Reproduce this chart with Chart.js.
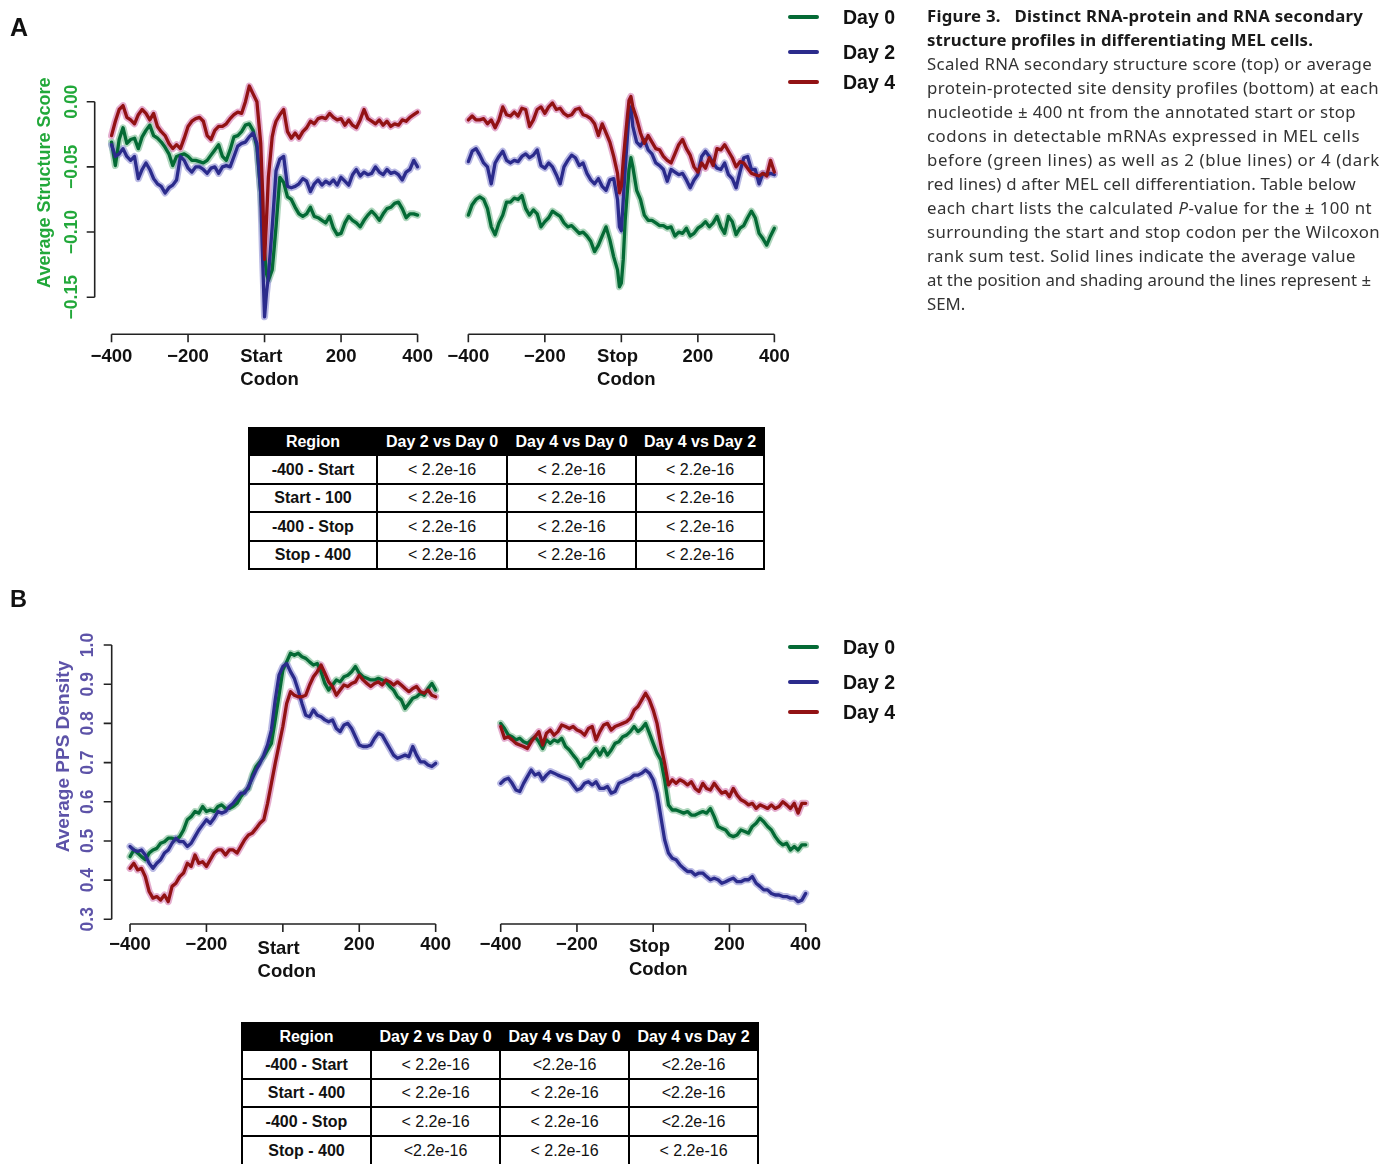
<!DOCTYPE html>
<html><head><meta charset="utf-8">
<script src="https://cdn.jsdelivr.net/npm/chart.js@4.4.1/dist/chart.umd.min.js"></script>
<style>
html,body{margin:0;padding:0;background:#fff;}
body{width:1382px;height:1164px;position:relative;overflow:hidden;font-family:"Liberation Sans",Arial,sans-serif;}
canvas.full{position:absolute;left:0;top:0;}
.panel{position:absolute;font-weight:bold;color:#111;}
.leg{position:absolute;font-weight:bold;font-size:19.5px;line-height:20px;color:#111;white-space:nowrap;}
.legline{position:absolute;height:4px;border-radius:2px;width:31px;}
.tbl{position:absolute;display:grid;background:#000;gap:2px;padding:2px;font-size:16px;}
.tbl div{background:#fff;display:flex;align-items:center;justify-content:center;white-space:nowrap;color:#111;}
.tbl div.h{background:#000;color:#fff;font-weight:bold;}
.tbl div.r{font-weight:bold;}
.cap{position:absolute;left:927px;top:4px;font-family:"Noto Sans",sans-serif;font-size:16.8px;line-height:24px;color:#333;}
.cap div{white-space:nowrap;}
.cap div.b{font-weight:bold;color:#1a1a1a;}
</style>
</head><body>
<canvas id="cAs" class="full" width="1382" height="1164"></canvas>
<canvas id="cAt" class="full" width="1382" height="1164"></canvas>
<canvas id="cBs" class="full" width="1382" height="1164"></canvas>
<canvas id="cBt" class="full" width="1382" height="1164"></canvas>

<div class="panel" style="left:10px;top:15px;font-size:25px;line-height:25px;">A</div>
<div class="panel" style="left:10px;top:588px;font-size:23.5px;line-height:23.5px;">B</div>
<div id="legends"></div>
<div id="tables"></div>

<div class="cap" id="cap">
<div class="b">Figure 3.&nbsp;&nbsp; Distinct RNA-protein and RNA secondary</div>
<div class="b">structure profiles in differentiating MEL cells.</div>
<div>Scaled RNA secondary structure score (top) or average</div>
<div>protein-protected site density profiles (bottom) at each</div>
<div>nucleotide ± 400 nt from the annotated start or stop</div>
<div>codons in detectable mRNAs expressed in MEL cells</div>
<div>before (green lines) as well as 2 (blue lines) or 4 (dark</div>
<div>red lines) d after MEL cell differentiation. Table below</div>
<div>each chart lists the calculated <i>P</i>-value for the ± 100 nt</div>
<div>surrounding the start and stop codon per the Wilcoxon</div>
<div>rank sum test. Solid lines indicate the average value</div>
<div>at the position and shading around the lines represent ±</div>
<div>SEM.</div>
</div>

<script>
// ---------------- DATA ----------------
const days = ['Day 0', 'Day 2', 'Day 4'];

const posA = [-400,-390,-380,-370,-360,-350,-340,-330,-320,-310,
  -300,-290,-280,-270,-260,-250,-240,-230,-220,-210,
  -200,-190,-180,-170,-160,-150,-140,-130,-120,-110,
  -100,-90,-80,-70,-60,-50,-40,-30,-20,-10,
  -5,0,5,
  10,20,25,
  30,40,50,60,70,80,90,100,110,120,
  130,140,150,160,170,180,190,200,210,220,
  230,240,250,260,270,280,290,300,310,320,
  330,340,350,360,370,380,390,400];

const posB = [-400,-390,-380,-370,-360,-350,-340,-330,-320,-310,
  -300,-290,-280,-270,-260,-250,-240,-230,-220,-210,
  -200,-190,-180,-170,-160,-150,-140,-130,-120,-110,
  -100,-90,-80,-70,-60,-50,-40,-30,-20,-10,
  0,10,20,30,40,50,60,70,80,90,
  100,110,120,130,140,150,160,170,180,190,
  200,210,220,230,240,250,260,270,280,290,
  300,310,320,330,340,350,360,370,380,390,
  400];

// Panel A, start codon: average structure score
const aStartDay0 = [-0.031,-0.049,-0.029,-0.020,-0.032,-0.029,-0.028,-0.036,-0.027,-0.022,
  -0.018,-0.026,-0.028,-0.031,-0.035,-0.040,-0.049,-0.042,-0.041,-0.040,
  -0.042,-0.045,-0.045,-0.046,-0.047,-0.045,-0.041,-0.037,-0.033,-0.042,
  -0.045,-0.037,-0.027,-0.026,-0.023,-0.018,-0.017,-0.022,-0.035,-0.070,
  -0.095,-0.116,-0.132,
  -0.137,-0.129,-0.113,
  -0.096,-0.058,-0.062,-0.073,-0.075,-0.081,-0.086,-0.088,-0.086,-0.081,
  -0.088,-0.089,-0.091,-0.093,-0.088,-0.097,-0.102,-0.101,-0.093,-0.088,
  -0.091,-0.093,-0.096,-0.091,-0.087,-0.084,-0.087,-0.091,-0.086,-0.082,
  -0.081,-0.078,-0.077,-0.082,-0.089,-0.086,-0.086,-0.087];
const aStartDay2 = [-0.033,-0.042,-0.040,-0.036,-0.042,-0.045,-0.042,-0.059,-0.052,-0.047,
  -0.052,-0.059,-0.063,-0.065,-0.070,-0.066,-0.064,-0.060,-0.042,-0.045,
  -0.051,-0.054,-0.050,-0.050,-0.052,-0.055,-0.051,-0.050,-0.055,-0.050,
  -0.049,-0.050,-0.042,-0.034,-0.032,-0.031,-0.027,-0.024,-0.032,-0.070,
  -0.121,-0.165,-0.147,
  -0.134,-0.096,-0.075,
  -0.053,-0.044,-0.042,-0.065,-0.066,-0.065,-0.063,-0.059,-0.061,-0.069,
  -0.063,-0.060,-0.064,-0.061,-0.063,-0.060,-0.064,-0.058,-0.061,-0.064,
  -0.056,-0.052,-0.057,-0.054,-0.056,-0.055,-0.050,-0.054,-0.056,-0.052,
  -0.055,-0.054,-0.056,-0.060,-0.054,-0.052,-0.045,-0.050];
const aStartDay4 = [-0.026,-0.015,-0.006,-0.003,-0.012,-0.014,-0.017,-0.010,-0.006,-0.009,
  -0.014,-0.009,-0.019,-0.023,-0.026,-0.032,-0.036,-0.033,-0.036,-0.028,
  -0.019,-0.015,-0.013,-0.012,-0.015,-0.026,-0.029,-0.022,-0.019,-0.019,
  -0.017,-0.013,-0.010,-0.008,-0.009,0.000,0.012,0.006,0.000,-0.032,
  -0.070,-0.121,-0.091,
  -0.058,-0.027,-0.020,
  -0.015,-0.010,-0.006,-0.023,-0.028,-0.024,-0.028,-0.023,-0.020,-0.015,
  -0.017,-0.013,-0.012,-0.013,-0.009,-0.012,-0.014,-0.013,-0.018,-0.014,
  -0.018,-0.020,-0.014,-0.006,-0.013,-0.015,-0.017,-0.014,-0.018,-0.015,
  -0.019,-0.017,-0.018,-0.014,-0.015,-0.012,-0.010,-0.008];

// Panel A, stop codon
const aStopDay0 = [-0.087,-0.079,-0.075,-0.073,-0.075,-0.082,-0.096,-0.102,-0.093,-0.087,
  -0.077,-0.077,-0.074,-0.075,-0.072,-0.082,-0.087,-0.083,-0.086,-0.096,
  -0.092,-0.089,-0.084,-0.086,-0.088,-0.093,-0.096,-0.095,-0.098,-0.101,
  -0.100,-0.103,-0.107,-0.115,-0.110,-0.103,-0.096,-0.106,-0.119,-0.129,
  -0.142,-0.139,-0.121,
  -0.091,-0.052,-0.043,
  -0.050,-0.068,-0.075,-0.087,-0.091,-0.091,-0.093,-0.095,-0.095,-0.097,
  -0.096,-0.103,-0.100,-0.101,-0.097,-0.103,-0.101,-0.097,-0.095,-0.092,
  -0.096,-0.093,-0.088,-0.096,-0.101,-0.088,-0.092,-0.102,-0.097,-0.095,
  -0.089,-0.084,-0.089,-0.101,-0.105,-0.110,-0.103,-0.097];
const aStopDay2 = [-0.046,-0.038,-0.036,-0.041,-0.047,-0.050,-0.063,-0.047,-0.042,-0.038,
  -0.045,-0.047,-0.045,-0.046,-0.042,-0.040,-0.043,-0.041,-0.037,-0.049,
  -0.051,-0.047,-0.050,-0.056,-0.063,-0.050,-0.045,-0.041,-0.043,-0.049,
  -0.047,-0.055,-0.060,-0.063,-0.059,-0.065,-0.068,-0.060,-0.059,-0.075,
  -0.096,-0.099,-0.075,
  -0.052,-0.009,-0.004,
  -0.019,-0.031,-0.034,-0.029,-0.037,-0.040,-0.047,-0.049,-0.052,-0.061,
  -0.052,-0.054,-0.056,-0.055,-0.060,-0.066,-0.060,-0.056,-0.042,-0.038,
  -0.042,-0.047,-0.051,-0.052,-0.047,-0.056,-0.059,-0.066,-0.054,-0.043,
  -0.042,-0.052,-0.052,-0.063,-0.055,-0.056,-0.055,-0.056];
const aStopDay4 = [-0.014,-0.011,-0.014,-0.014,-0.013,-0.017,-0.014,-0.020,-0.014,-0.004,
  -0.010,-0.011,-0.008,-0.011,-0.005,-0.006,-0.019,-0.014,-0.006,-0.004,
  -0.009,-0.004,-0.001,-0.006,-0.005,-0.009,-0.011,-0.010,-0.006,-0.005,
  -0.010,-0.011,-0.013,-0.017,-0.026,-0.017,-0.024,-0.031,-0.042,-0.055,
  -0.070,-0.065,-0.045,
  -0.029,0.001,0.004,
  -0.004,-0.013,-0.024,-0.032,-0.026,-0.031,-0.036,-0.037,-0.042,-0.045,
  -0.047,-0.040,-0.033,-0.029,-0.036,-0.041,-0.050,-0.054,-0.047,-0.051,
  -0.043,-0.049,-0.036,-0.037,-0.033,-0.038,-0.043,-0.050,-0.046,-0.047,
  -0.051,-0.055,-0.056,-0.057,-0.055,-0.057,-0.045,-0.054];

// Panel B, start codon: average PPS density
const bStartDay0 = [0.460,0.477,0.469,0.460,0.452,0.469,0.477,0.481,0.494,0.498,
  0.507,0.507,0.503,0.511,0.528,0.554,0.562,0.575,0.571,0.588,
  0.575,0.579,0.575,0.588,0.592,0.583,0.583,0.588,0.596,0.613,
  0.626,0.634,0.668,0.690,0.702,0.715,0.732,0.749,0.809,0.872,
  0.936,0.957,0.979,0.974,0.979,0.970,0.966,0.957,0.949,0.953,
  0.932,0.902,0.885,0.898,0.911,0.906,0.919,0.923,0.932,0.945,
  0.928,0.919,0.915,0.911,0.911,0.915,0.911,0.906,0.894,0.885,
  0.868,0.860,0.838,0.851,0.864,0.868,0.877,0.872,0.889,0.902,
  0.885];
const bStartDay2 = [0.486,0.477,0.473,0.477,0.464,0.443,0.430,0.443,0.452,0.469,
  0.477,0.494,0.507,0.498,0.498,0.486,0.494,0.511,0.528,0.541,
  0.554,0.545,0.558,0.575,0.571,0.575,0.588,0.596,0.609,0.622,
  0.622,0.639,0.660,0.681,0.698,0.719,0.745,0.783,0.860,0.923,
  0.945,0.953,0.932,0.915,0.885,0.851,0.821,0.817,0.834,0.821,
  0.817,0.809,0.804,0.809,0.787,0.779,0.796,0.800,0.787,0.766,
  0.745,0.741,0.741,0.745,0.762,0.775,0.770,0.753,0.736,0.719,
  0.711,0.715,0.719,0.715,0.741,0.719,0.702,0.702,0.694,0.690,
  0.698];
const bStartDay4 = [0.430,0.443,0.426,0.430,0.409,0.371,0.354,0.358,0.349,0.362,
  0.345,0.384,0.392,0.409,0.418,0.443,0.435,0.464,0.443,0.447,
  0.435,0.452,0.469,0.477,0.477,0.464,0.477,0.477,0.469,0.486,
  0.503,0.515,0.520,0.532,0.545,0.554,0.596,0.647,0.698,0.745,
  0.792,0.851,0.881,0.872,0.868,0.868,0.872,0.898,0.919,0.932,
  0.949,0.928,0.906,0.894,0.872,0.885,0.898,0.894,0.902,0.906,
  0.923,0.911,0.902,0.894,0.902,0.906,0.898,0.911,0.906,0.898,
  0.906,0.898,0.889,0.881,0.889,0.894,0.881,0.877,0.885,0.872,
  0.868];

// Panel B, stop codon
const bStopDay0 = [0.800,0.787,0.770,0.766,0.758,0.762,0.753,0.749,0.758,0.766,
  0.753,0.736,0.758,0.749,0.758,0.753,0.762,0.741,0.732,0.719,
  0.707,0.690,0.707,0.711,0.724,0.736,0.719,0.736,0.719,0.732,
  0.749,0.753,0.766,0.770,0.779,0.792,0.779,0.787,0.800,0.775,
  0.749,0.724,0.707,0.656,0.592,0.579,0.579,0.575,0.571,0.575,
  0.566,0.566,0.571,0.575,0.571,0.583,0.562,0.537,0.532,0.528,
  0.515,0.511,0.515,0.528,0.524,0.520,0.537,0.545,0.558,0.549,
  0.537,0.528,0.511,0.498,0.490,0.494,0.477,0.486,0.477,0.490,
  0.490];
const bStopDay2 = [0.647,0.656,0.660,0.647,0.630,0.626,0.647,0.664,0.681,0.668,
  0.673,0.656,0.668,0.677,0.673,0.668,0.664,0.660,0.656,0.643,
  0.630,0.634,0.647,0.651,0.643,0.651,0.634,0.634,0.639,0.622,
  0.626,0.647,0.651,0.656,0.660,0.668,0.668,0.673,0.681,0.673,
  0.656,0.622,0.562,0.503,0.469,0.456,0.452,0.439,0.430,0.422,
  0.422,0.413,0.418,0.418,0.409,0.401,0.405,0.401,0.392,0.396,
  0.401,0.405,0.396,0.396,0.401,0.401,0.409,0.392,0.384,0.375,
  0.375,0.366,0.362,0.362,0.358,0.358,0.354,0.354,0.345,0.349,
  0.366];
const bStopDay4 = [0.792,0.762,0.766,0.758,0.749,0.745,0.741,0.736,0.753,0.766,
  0.779,0.745,0.775,0.783,0.770,0.779,0.796,0.792,0.787,0.792,
  0.783,0.779,0.770,0.787,0.792,0.758,0.779,0.796,0.800,0.783,
  0.792,0.796,0.800,0.804,0.813,0.834,0.843,0.860,0.877,0.860,
  0.834,0.800,0.745,0.698,0.643,0.656,0.647,0.656,0.651,0.643,
  0.651,0.634,0.626,0.647,0.634,0.630,0.647,0.634,0.622,0.626,
  0.613,0.634,0.617,0.605,0.600,0.592,0.596,0.583,0.592,0.588,
  0.583,0.592,0.583,0.588,0.600,0.592,0.583,0.596,0.571,0.596,
  0.596];

// tick values and labels
const xTickVals = [-400, -200, 0, 200, 400];
const xTickStart = ['\u2212400', '\u2212200', ['Start', 'Codon'], '200', '400'];
const xTickStop = ['\u2212400', '\u2212200', ['Stop', 'Codon'], '200', '400'];
const yTicksA = [0, -0.05, -0.10, -0.15];
const yLabelsA = ['0.00', '\u22120.05', '\u22120.10', '\u22120.15'];
const yTicksB = [0.3, 0.4, 0.5, 0.6, 0.7, 0.8, 0.9, 1.0];
const yLabelsB = ['0.3', '0.4', '0.5', '0.6', '0.7', '0.8', '0.9', '1.0'];
const yTitleA = 'Average Structure Score';
const yTitleB = 'Average PPS Density';

// tables
const tableHead = ['Region', 'Day 2 vs Day 0', 'Day 4 vs Day 0', 'Day 4 vs Day 2'];
const tableARows = [
  ['-400 - Start', '< 2.2e-16', '< 2.2e-16', '< 2.2e-16'],
  ['Start - 100', '< 2.2e-16', '< 2.2e-16', '< 2.2e-16'],
  ['-400 - Stop', '< 2.2e-16', '< 2.2e-16', '< 2.2e-16'],
  ['Stop - 400', '< 2.2e-16', '< 2.2e-16', '< 2.2e-16']];
const tableBRows = [
  ['-400 - Start', '< 2.2e-16', '<2.2e-16', '<2.2e-16'],
  ['Start - 400', '< 2.2e-16', '< 2.2e-16', '<2.2e-16'],
  ['-400 - Stop', '< 2.2e-16', '< 2.2e-16', '<2.2e-16'],
  ['Stop - 400', '<2.2e-16', '< 2.2e-16', '< 2.2e-16']];

// ---------------- STYLE ----------------
const lineColors = ['#046a35', '#2b2b8c', '#921214'];
const bandColors = ['rgba(110,180,135,0.55)', 'rgba(130,130,205,0.55)', 'rgba(205,105,165,0.55)'];
const FONT = '"Liberation Sans", Arial, sans-serif';

const rAxes = {
  id: 'rAxes',
  afterDraw(chart, args, o) {
    const ctx = chart.ctx, xs = chart.scales.x, ys = chart.scales.y, ca = chart.chartArea;
    ctx.save();
    ctx.strokeStyle = '#222'; ctx.lineWidth = 1.6;
    const y0 = ca.bottom;
    const xa = xs.getPixelForValue(o.xTicks[0]), xb = xs.getPixelForValue(o.xTicks[o.xTicks.length - 1]);
    ctx.beginPath(); ctx.moveTo(xa, y0); ctx.lineTo(xb, y0);
    o.xTicks.forEach(v => { const p = xs.getPixelForValue(v); ctx.moveTo(p, y0); ctx.lineTo(p, y0 + 8); });
    ctx.stroke();
    ctx.fillStyle = '#111'; ctx.font = 'bold 18.5px ' + FONT; ctx.textBaseline = 'alphabetic';
    o.xTicks.forEach((v, i) => {
      const p = xs.getPixelForValue(v), lab = o.xLabels[i];
      if (Array.isArray(lab)) {
        const w = Math.max(...lab.map(l => ctx.measureText(l).width));
        ctx.textAlign = 'left';
        lab.forEach((l, j) => ctx.fillText(l, p - w / 2 + o.centerDx, y0 + o.centerBase + j * 23.4));
      } else {
        ctx.textAlign = 'center';
        ctx.fillText(lab, p, y0 + o.labelBase);
      }
    });
    if (o.yTicks) {
      const x0 = ca.left;
      const ya = ys.getPixelForValue(Math.min(...o.yTicks)), yb = ys.getPixelForValue(Math.max(...o.yTicks));
      ctx.beginPath(); ctx.moveTo(x0, ya); ctx.lineTo(x0, yb);
      o.yTicks.forEach(v => { const p = ys.getPixelForValue(v); ctx.moveTo(x0, p); ctx.lineTo(x0 - 8, p); });
      ctx.stroke();
      ctx.fillStyle = o.yColor; ctx.font = 'bold 17.5px ' + FONT;
      ctx.textAlign = 'center'; ctx.textBaseline = 'middle';
      o.yTicks.forEach((v, i) => {
        const p = ys.getPixelForValue(v);
        ctx.save(); ctx.translate(x0 - o.yLabelOff, p); ctx.rotate(-Math.PI / 2);
        ctx.fillText(o.yLabels[i], 0, 0); ctx.restore();
      });
      ctx.font = 'bold ' + o.yTitleSize + 'px ' + FONT;
      ctx.save(); ctx.translate(o.yTitleX, o.yTitleY); ctx.rotate(-Math.PI / 2);
      ctx.fillText(o.yTitle, 0, 0); ctx.restore();
    }
    ctx.restore();
  }
};

function buildChart(id, pos, series, area, xr, yr, axisOpts) {
  const ds = [];
  const pts = s => s.map((v, i) => ({ x: pos[i], y: v }));
  // lower "order" is drawn on top: lines above their SEM shading
  series.forEach((s, i) => ds.push({ label: days[i] + ' SEM', data: pts(s), borderColor: bandColors[i], borderWidth: 7, clip: false, order: 10 - i }));
  series.forEach((s, i) => ds.push({ label: days[i], data: pts(s), borderColor: lineColors[i], borderWidth: 3.3, clip: false, order: 3 - i }));
  new Chart(document.getElementById(id), {
    type: 'line',
    data: { datasets: ds },
    options: {
      responsive: false, animation: false, devicePixelRatio: 1,
      layout: { padding: { left: area[0], top: area[1], right: 1382 - area[2], bottom: 1164 - area[3] } },
      scales: {
        x: { type: 'linear', min: xr[0], max: xr[1], display: false },
        y: { type: 'linear', min: yr[0], max: yr[1], display: false }
      },
      elements: { point: { radius: 0 }, line: { tension: 0, borderJoinStyle: 'round', borderCapStyle: 'round' } },
      plugins: { legend: { display: false }, tooltip: { enabled: false }, rAxes: axisOpts }
    },
    plugins: [rAxes]
  });
}

const greenTxt = '#22a83a', purpleTxt = '#5d53a8';
buildChart('cAs', posA, [aStartDay0, aStartDay2, aStartDay4], [94.7, 75.6, 434.4, 334.3], [-444, 444], [-0.1784, 0.02],
  { xTicks: xTickVals, xLabels: xTickStart, labelBase: 27.4, centerBase: 27.4, centerDx: 5,
    yTicks: yTicksA, yLabels: yLabelsA, yColor: greenTxt, yLabelOff: 22.2, yTitle: yTitleA, yTitleSize: 18, yTitleX: 45.5, yTitleY: 182.7 });
buildChart('cAt', posA, [aStopDay0, aStopDay2, aStopDay4], [451.5, 75.6, 791.2, 334.3], [-444, 444], [-0.1784, 0.02],
  { xTicks: xTickVals, xLabels: xTickStop, labelBase: 27.4, centerBase: 27.4, centerDx: 5 });
buildChart('cBs', posB, [bStartDay0, bStartDay2, bStartDay4], [111.7, 637.2, 454.0, 924], [-448, 448], [0.288, 1.02],
  { xTicks: xTickVals, xLabels: xTickStart, labelBase: 25.5, centerBase: 30, centerDx: 4,
    yTicks: yTicksB, yLabels: yLabelsB, yColor: purpleTxt, yLabelOff: 23.4, yTitle: yTitleB, yTitleSize: 19, yTitleX: 64, yTitleY: 756.5 });
buildChart('cBt', posB, [bStopDay0, bStopDay2, bStopDay4], [482.4, 637.2, 824.0, 924], [-448, 448], [0.288, 1.02],
  { xTicks: xTickVals, xLabels: xTickStop, labelBase: 25.5, centerBase: 28, centerDx: 5 });

// legends
const legendYs = [[17.3, 51.7, 81.7], [647, 681.7, 712.3]];
let lh = '';
legendYs.forEach(ys => ys.forEach((y, i) => {
  lh += '<div class="legline" style="left:788px;top:' + (y - 2) + 'px;background:' + lineColors[i] + '"></div>';
  lh += '<div class="leg" style="left:843px;top:' + (y - 10) + 'px">' + days[i] + '</div>';
}));
document.getElementById('legends').innerHTML = lh;

// tables
function buildTable(left, top, cols, rows, head, body) {
  let h = '<div class="tbl" style="left:' + left + 'px;top:' + top + 'px;grid-template-columns:' +
    cols.map(c => c + 'px').join(' ') + ';grid-template-rows:' + rows.map(r => r + 'px').join(' ') + '">';
  head.forEach(t => h += '<div class="h">' + t + '</div>');
  body.forEach(r => r.forEach((t, j) => h += '<div' + (j === 0 ? ' class="r"' : '') + '>' + t.replace(/</g, '&lt;') + '</div>'));
  return h + '</div>';
}
document.getElementById('tables').innerHTML =
  buildTable(248, 427, [126, 128, 127, 126], [25, 27, 26, 27, 26], tableHead, tableARows) +
  buildTable(241, 1022, [127, 127, 127, 127], [25, 27, 26, 27, 27], tableHead, tableBRows);

// caption line fitting
const capW = [436, 386, 445, 452, 429, 433, 453, 429, 445, 453, 429, 444, 0];
document.querySelectorAll('#cap > div').forEach((d, i) => {
  if (!capW[i]) return;
  const s = document.createElement('span');
  while (d.firstChild) s.appendChild(d.firstChild);
  d.appendChild(s);
  const w = s.getBoundingClientRect().width;
  const n = s.textContent.length;
  d.style.letterSpacing = ((capW[i] - w) / n).toFixed(3) + 'px';
});
</script>
</body></html>
